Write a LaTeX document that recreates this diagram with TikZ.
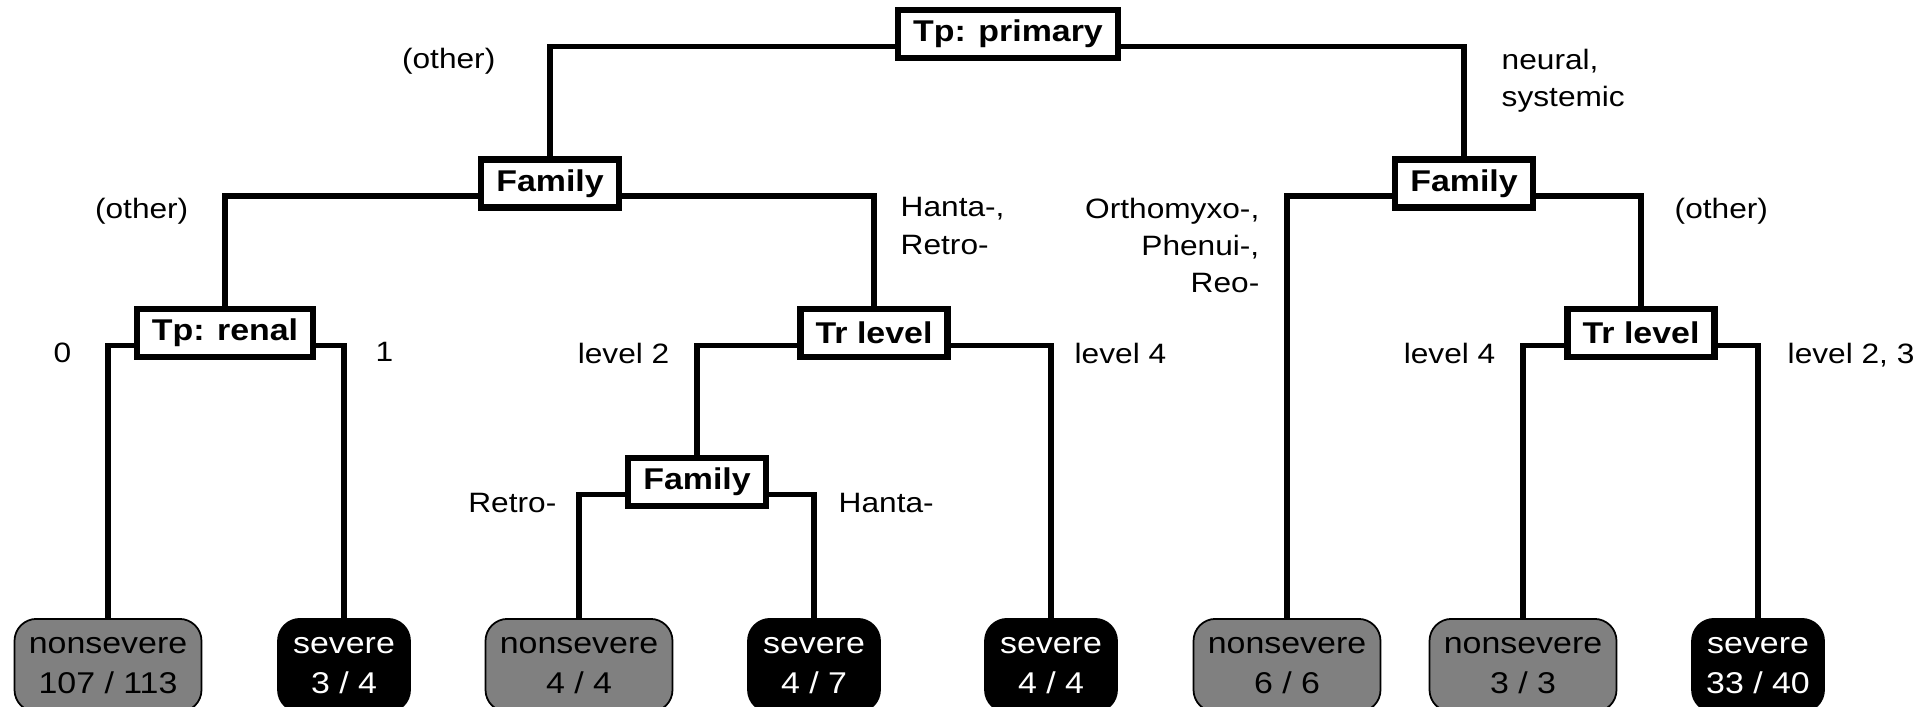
\documentclass[tikz,border=0pt]{standalone}
\usepackage{fontspec}
\setmainfont{Liberation Sans}[FakeStretch=1.13]
\newcommand{\branches}[3]{\draw[link] ([yshift=-1.25mm]#1.west) -| (#2.north); \draw[link] ([yshift=-1.25mm]#1.east) -| (#3.north);}
\tikzset{
  question/.style = {draw, line width=1.8pt, fill=white, inner xsep=1.5mm, inner ysep=0pt, minimum height=4.8mm, font=\fontsize{8.54}{10}\selectfont\bfseries},
  leaf/.style = {draw, line width=0.5pt, rounded corners=2.2mm, anchor=north, minimum height=9.3mm, inner ysep=0pt, align=center, font=\fontsize{8.54}{11.4}\selectfont},
  nonsevere/.style = {leaf, fill=gray, minimum width=18.7mm},
  severe/.style = {leaf, fill=black, text=white, minimum width=13.2mm},
  link/.style = {line width=1.5pt},
  lab/.style = {inner sep=0pt, font=\fontsize{7.97}{10.6}\selectfont}
}

\begin{document}
\begin{tikzpicture}
\useasboundingbox (0,0) rectangle (19.2,-7.06);
\clip (0,0) rectangle (19.2,-7.06);
\node[question] (top) at (10.08,-0.34) {Tp: primary};
\node[question] (famL) at (5.50,-1.835) {Family};
\node[question] (famR) at (14.64,-1.835) {Family};
\node[question] (renal) at (2.25,-3.33) {Tp: renal};
\node[question] (trL) at (8.74,-3.33) {Tr level};
\node[question] (trR) at (16.41,-3.33) {Tr level};
\node[question] (famM) at (6.97,-4.82) {Family};
\node[nonsevere] (l1) at (1.08,-6.18) {nonsevere\\107 / 113};
\node[severe] (l2) at (3.44,-6.18) {severe\\3 / 4};
\node[nonsevere] (l3) at (5.79,-6.18) {nonsevere\\4 / 4};
\node[severe] (l4) at (8.14,-6.18) {severe\\4 / 7};
\node[severe] (l5) at (10.51,-6.18) {severe\\4 / 4};
\node[nonsevere] (l6) at (12.87,-6.18) {nonsevere\\6 / 6};
\node[nonsevere] (l7) at (15.23,-6.18) {nonsevere\\3 / 3};
\node[severe] (l8) at (17.58,-6.18) {severe\\33 / 40};
\branches{top}{famL}{famR}
\branches{famL}{renal}{trL}
\branches{famR}{l6}{trR}
\branches{renal}{l1}{l2}
\branches{trL}{famM}{l5}
\branches{famM}{l3}{l4}
\branches{trR}{l7}{l8}
\node[lab, anchor=north east] (topL) at (4.96,-0.47) {(other)};
\node[lab, anchor=north west, align=left] (topR) at (15.01,-0.48) {neural,\\systemic};
\node[lab, anchor=north east] (famLL) at (1.89,-1.97) {(other)};
\node[lab, anchor=north west, align=left] (famLR) at (9.00,-1.97) {Hanta-,\\Retro-};
\node[lab, anchor=north east, align=right] (famRL) at (12.60,-1.97) {Orthomyxo-,\\Phenui-,\\Reo-};
\node[lab, anchor=north west] (famRR) at (16.74,-1.97) {(other)};
\node[lab, anchor=north east] (renalL) at (0.72,-3.42) {0};
\node[lab, anchor=north west] (renalR) at (3.75,-3.42) {1};
\node[lab, anchor=north east] (trLL) at (6.70,-3.42) {level 2};
\node[lab, anchor=north west] (trLR) at (10.74,-3.42) {level 4};
\node[lab, anchor=north east] (trRL) at (14.96,-3.42) {level 4};
\node[lab, anchor=north west] (trRR) at (17.87,-3.42) {level 2, 3};
\node[lab, anchor=north east] (famML) at (5.57,-4.93) {Retro-};
\node[lab, anchor=north west] (famMR) at (8.38,-4.93) {Hanta-};
\end{tikzpicture}
\end{document}
